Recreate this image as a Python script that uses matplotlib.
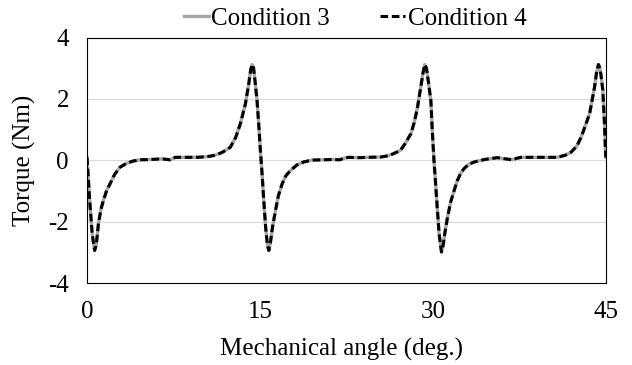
import matplotlib
matplotlib.use("Agg")
import matplotlib.pyplot as plt

plt.rcParams['font.family'] = ['Liberation Serif', 'DejaVu Serif']
plt.rcParams['axes.unicode_minus'] = False

# values (mechanical angle in deg., torque in Nm)
angle = [0.0, 0.23, 0.45, 0.66, 0.8, 0.99, 1.2, 1.42, 1.7, 2.0, 2.4, 2.87, 3.4, 4.0, 4.6,
         5.5, 6.5, 7.2, 7.65, 8.5, 9.5, 10.4, 11.0, 11.6, 12.0, 12.43, 12.9, 13.3, 13.74,
         14.03, 14.2, 14.32, 14.45, 14.6, 14.75, 14.9, 15.04, 15.2, 15.33, 15.5, 15.65,
         15.77, 15.9, 16.1, 16.35, 16.6, 16.93, 17.25, 17.65, 18.2, 18.8, 19.5, 20.5, 21.3,
         21.9, 22.4, 22.7, 23.5, 24.5, 25.5, 26.1, 26.6, 27.2, 27.6, 28.1, 28.4, 28.67,
         29.0, 29.15, 29.3, 29.45, 29.6, 29.83, 29.95, 30.1, 30.25, 30.4, 30.55, 30.75,
         30.9, 31.05, 31.28, 31.55, 31.85, 32.1, 32.4, 32.7, 33.1, 33.6, 34.5, 35.6, 36.3,
         36.9, 37.3, 37.65, 39.0, 40.8, 41.5, 42.0, 42.5, 42.87, 43.25, 43.6, 44.03, 44.2,
         44.37, 44.5, 44.6, 44.75, 44.88, 45.0]
torque_cond3 = [0.1, -1.3, -2.4, -2.93, -2.75, -2.06, -1.6, -1.3, -0.98, -0.76, -0.45, -0.22,
                -0.1, -0.02, 0.02, 0.03, 0.05, 0.02, 0.1, 0.1, 0.1, 0.12, 0.16, 0.24, 0.32,
                0.43, 0.75, 1.19, 1.84, 2.49, 2.95, 3.12, 3.0, 2.5, 1.95, 1.15, 0.33, -0.5,
                -1.3, -2.2, -2.75, -2.93, -2.7, -2.15, -1.63, -1.15, -0.76, -0.5, -0.33,
                -0.15, -0.05, 0.01, 0.02, 0.03, 0.02, 0.08, 0.1, 0.09, 0.1, 0.11, 0.15, 0.22,
                0.33, 0.55, 0.87, 1.25, 1.73, 2.49, 2.85, 3.12, 3.0, 2.6, 1.95, 1.0, 0.0,
                -0.8, -1.63, -2.4, -2.98, -2.75, -2.35, -1.84, -1.35, -0.98, -0.68, -0.43,
                -0.27, -0.13, -0.05, 0.03, 0.09, 0.05, 0.02, 0.07, 0.1, 0.1, 0.1, 0.17, 0.27,
                0.47, 0.76, 1.15, 1.52, 2.38, 2.85, 3.12, 3.0, 2.75, 2.28, 1.3, 0.1]
# condition 4 lies on top of condition 3 everywhere in the picture
torque_cond4 = torque_cond3.copy()

x_ticks = [0, 15, 30, 45]
y_ticks = [-4, -2, 0, 2, 4]

fig = plt.figure(figsize=(6.32, 3.65), dpi=100)
ax = fig.add_axes([0.1377, 0.2238, 0.8207, 0.6734])

ax.plot(angle, torque_cond3, color='#a6a6a6', lw=2.4, label='Condition 3',
        solid_joinstyle='round')
ax.plot(angle, torque_cond4, color='black', lw=2.2, dashes=(2.5, 1.2),
        label='Condition 4')

ax.set_xlim(0, 45)
ax.set_ylim(-4, 4)
ax.set_xticks(x_ticks)
ax.set_yticks(y_ticks)
ax.tick_params(axis='both', length=0, labelsize=18)
ax.tick_params(axis='x', pad=13)
ax.tick_params(axis='y', pad=13)
ax.grid(axis='y', color='#d9d9d9', lw=0.8)
ax.set_axisbelow(True)
for s in ax.spines.values():
    s.set_color('black')
    s.set_linewidth(0.8)

fig.text(0.5396, 0.025, 'Mechanical angle (deg.)', ha='center', va='baseline', fontsize=18)
fig.text(0.038, 0.5605, 'Torque (Nm)', ha='center', va='center', rotation=90, fontsize=18)

fig.legend(loc='center', bbox_to_anchor=(0.562, 0.948), ncol=2, frameon=False,
           fontsize=18, handlelength=1.0, handletextpad=0.1, columnspacing=2.0,
           borderpad=0, borderaxespad=0)

fig.savefig('out.png', dpi=100, facecolor='white')
